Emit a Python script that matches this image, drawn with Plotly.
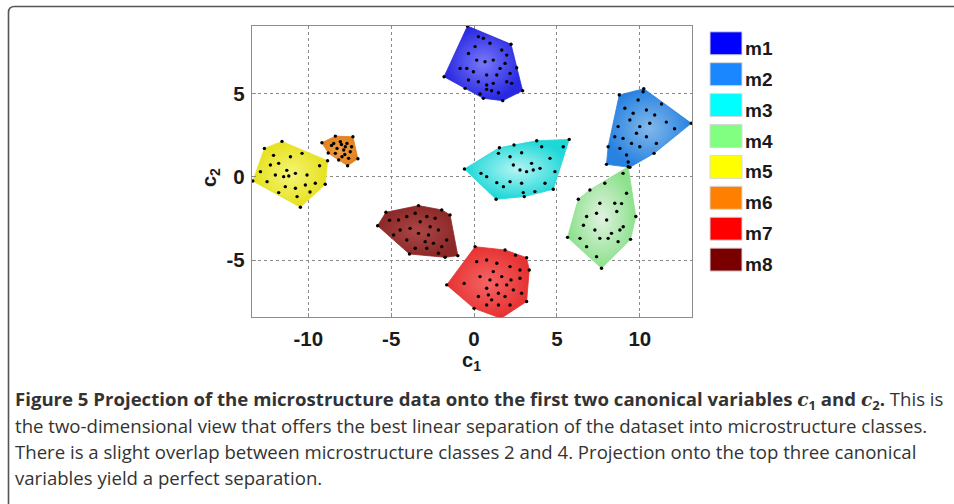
import plotly.graph_objects as go

# ---------------- data ----------------
classes = ["m1", "m2", "m3", "m4", "m5", "m6", "m7", "m8"]

m1_c1 = [-0.40, 2.23, 2.57, 2.93, 1.73, 0.56, -0.54, -1.81,
         0.26, 0.56, 0.96, -0.34, 0.16, 0.66, 1.16, 1.97, 1.87, 1.57, -0.84, -0.44, -0.04,
         0.76, 1.37, 2.17, 0.26, 0.76, 1.16, 1.97, 2.27, 0.76, 1.06, 1.47, 0.36, -0.34, 0.06, 1.67]
m1_c2 = [9.08, 7.98, 6.57, 5.19, 4.59, 4.73, 5.33, 6.03,
         8.44, 8.34, 8.04, 7.43, 7.03, 6.93, 7.03, 7.33, 6.83, 6.53, 6.53, 6.53, 6.33,
         6.13, 6.13, 6.23, 5.73, 5.53, 5.63, 5.73, 5.63, 5.27, 5.19, 5.07, 4.99, 5.83, 7.84, 7.64]

m2_c1 = [8.76, 10.24, 13.11, 9.40, 7.99, 8.09,
         9.10, 9.60, 10.40, 10.90, 11.31, 9.40, 10.00, 10.60, 8.49, 8.99, 9.80, 10.40, 11.00,
         9.50, 8.80, 10.00, 9.20, 10.86, 10.20, 9.90, 8.69, 9.30, 11.60, 12.10]
m2_c2 = [4.93, 5.31, 3.23, 0.58, 0.76, 1.82,
         4.13, 3.83, 4.03, 3.73, 4.39, 3.43, 3.03, 3.23, 2.42, 2.32, 2.63, 2.42, 2.02,
         2.02, 1.72, 1.82, 1.32, 1.42, 5.13, 4.63, 3.03, 0.90, 3.30, 2.90]

m3_c1 = [-0.58, 1.53, 2.41, 3.78, 5.74, 4.78, 3.03, 1.33,
         0.42, 1.47, 2.17, 2.87, 4.08, 4.58, 2.37, 2.77, 3.17, 3.57, 3.98, 4.88, 1.37,
         2.17, 2.87, 4.28, 3.67, 2.97, 1.77, 0.76, 5.38, 3.47]
m3_c2 = [0.48, 1.76, 1.92, 2.18, 2.26, -0.74, -1.18, -1.34,
         0.22, 1.42, 1.22, 1.46, 1.82, 1.12, 0.72, 0.42, 0.32, 0.42, 0.52, 0.32, -0.34,
         -0.28, -0.38, -0.38, -0.88, -0.94, -0.58, 0.02, 1.82, 0.82]

m4_c1 = [9.30, 9.76, 9.44, 7.69, 5.64, 6.29, 6.99,
         7.89, 8.99, 7.59, 8.49, 9.20, 6.79, 7.39, 8.61, 8.00, 7.29, 8.29, 8.80, 9.00,
         6.39, 7.59, 8.09, 8.69, 6.79, 7.39, 8.90, 6.60]
m4_c2 = [0.62, -2.38, -3.75, -5.49, -3.63, -1.34, -0.78,
         -0.38, 0.22, -1.58, -1.58, -0.98, -2.38, -2.18, -2.08, -2.59, -3.19, -3.39, -3.19, -2.99,
         -3.69, -3.69, -3.69, -3.89, -4.19, -4.79, -1.60, -2.90]

m5_c1 = [-13.35, -12.65, -11.59, -8.84, -8.98, -10.48,
         -12.89, -12.29, -11.79, -11.08, -10.38, -9.32, -11.49, -11.18, -10.78, -10.08, -11.99,
         -12.49, -11.39, -10.78, -9.58, -11.79, -10.68, -10.18, -12.10, -9.90, -11.30]
m5_c2 = [-0.24, 1.72, 2.14, 0.98, -0.44, -1.82,
         0.32, 0.72, 0.82, 1.22, 1.42, 0.68, 0.02, 0.06, 0.22, 0.12, 0.12,
         -0.28, -0.58, -0.68, -0.38, -0.94, -1.18, -0.48, 1.30, -0.90, 0.40]

m6_c1 = [-9.18, -8.37, -7.31, -7.01, -7.63, -8.80,
         -8.47, -8.07, -7.67, -8.27, -7.87, -7.47, -8.37, -7.97, -7.57, -7.77, -8.17, -7.39,
         -8.60, -8.00, -7.80]
m6_c2 = [2.06, 2.46, 2.42, 1.10, 0.68, 1.44,
         2.02, 2.12, 2.02, 1.72, 1.62, 1.52, 1.42, 1.22, 1.12, 1.82, 1.02, 1.82,
         1.90, 1.95, 1.35]

m7_c1 = [-1.65, 0.06, 1.87, 3.17, 3.33, 3.17, 1.63, 0.00,
         0.16, 0.76, 1.37, 2.17, 2.77, 1.16, 1.67, 0.96, 0.36, 2.23, 2.77, 1.37, 1.97,
         0.76, 2.37, 1.47, 1.87, 0.86, 2.87, 0.26, 1.47, 0.76, 2.17, 1.06, -0.60, 2.50]
m7_c2 = [-6.49, -4.19, -4.39, -4.85, -5.59, -7.49, -8.50, -7.90,
         -5.09, -4.99, -5.19, -5.39, -5.59, -5.69, -5.99, -6.19, -5.99, -6.19, -6.09, -6.49, -6.49,
         -6.69, -6.79, -6.99, -7.19, -7.09, -6.99, -7.19, -7.70, -7.70, -7.70, -7.39, -6.40, -4.70]

m8_c1 = [-5.82, -5.32, -3.35, -1.95, -1.45, -0.98, -1.75, -3.90,
         -4.56, -4.06, -3.55, -2.85, -2.35, -3.25, -2.65, -2.15, -4.46, -3.86, -3.35, -2.75,
         -4.86, -4.06, -2.95, -2.45, -1.65, -2.85, -3.55, -2.15, -1.95, -5.10]
m8_c2 = [-2.93, -2.12, -1.72, -1.98, -2.28, -4.73, -4.83, -4.63,
         -2.59, -2.38, -2.18, -2.38, -2.48, -2.69, -2.99, -3.19, -3.19, -3.09, -3.39, -3.49,
         -3.49, -3.79, -3.89, -3.99, -3.79, -4.29, -4.29, -4.59, -4.19, -2.60]

c1_values = [m1_c1, m2_c1, m3_c1, m4_c1, m5_c1, m6_c1, m7_c1, m8_c1]
c2_values = [m1_c2, m2_c2, m3_c2, m4_c2, m5_c2, m6_c2, m7_c2, m8_c2]

x_ticks = [-10, -5, 0, 5, 10]
y_ticks = [-5, 0, 5]
x_range = [-13.4, 13.15]
y_range = [-8.42, 9.08]

# ---------------- styles ----------------
legend_colors = ["#0000ff", "#1a86ff", "#00ffff", "#80ff80", "#ffff00", "#ff8000", "#ff0000", "#7a0000"]
fill_center = ["rgb(120,120,250)", "rgb(130,185,235)", "rgb(180,245,245)", "rgb(225,242,225)",
               "rgb(245,245,120)", "rgb(240,160,70)", "rgb(245,100,100)", "rgb(170,70,70)"]
fill_edge = ["rgb(40,40,225)", "rgb(40,130,225)", "rgb(30,215,215)", "rgb(140,225,140)",
             "rgb(230,225,30)", "rgb(225,130,30)", "rgb(230,50,50)", "rgb(140,40,40)"]

W, H = 954, 504
L, R, T, B = 252, 692, 26, 317   # plot area in pixels
BOLD_FONT = "Liberation Sans, Arial, Helvetica, sans-serif"


def px_x(p):
    return (p - L) / (R - L)


def px_y(p):
    return (B - p) / (B - T)


def convex_hull(xs, ys):
    pts = sorted(set(zip(xs, ys)))
    if len(pts) <= 2:
        return pts

    def cross(o, a, b):
        return (a[0] - o[0]) * (b[1] - o[1]) - (a[1] - o[1]) * (b[0] - o[0])
    lower, upper = [], []
    for p in pts:
        while len(lower) >= 2 and cross(lower[-2], lower[-1], p) <= 0:
            lower.pop()
        lower.append(p)
    for p in reversed(pts):
        while len(upper) >= 2 and cross(upper[-2], upper[-1], p) <= 0:
            upper.pop()
        upper.append(p)
    return lower[:-1] + upper[:-1]


fig = go.Figure()

for i, name in enumerate(classes):
    hull = convex_hull(c1_values[i], c2_values[i])
    hx = [p[0] for p in hull] + [hull[0][0]]
    hy = [p[1] for p in hull] + [hull[0][1]]
    fig.add_trace(go.Scatter(
        x=hx, y=hy, mode="lines", fill="toself",
        line=dict(width=0.8, color=fill_edge[i]),
        fillgradient=dict(type="radial", colorscale=[[0, fill_center[i]], [1, fill_edge[i]]]),
        hoverinfo="skip", showlegend=False, name=name))

for i, name in enumerate(classes):
    fig.add_trace(go.Scatter(
        x=c1_values[i], y=c2_values[i], mode="markers",
        marker=dict(size=3.4, color="black"),
        showlegend=False, name=name))

axis_common = dict(
    showgrid=True, gridcolor="#8a8a8a", griddash="dot", gridwidth=1,
    zeroline=False, showline=True, linecolor="#8c8c8c", linewidth=1.3, mirror=True,
    ticks="inside", ticklen=4, tickcolor="#8c8c8c",
    tickfont=dict(family=BOLD_FONT, size=20.5, color="#1a1a1a", weight="bold"),
)
fig.update_xaxes(range=x_range, tickvals=x_ticks, ticktext=[f"<b>{v}</b>" for v in x_ticks],
                 ticklabelstandoff=3, **axis_common)
fig.update_yaxes(range=y_range, tickvals=y_ticks, ticktext=[f"<b>{v}</b>" for v in y_ticks],
                 ticklabelstandoff=2, **axis_common)

shapes = []
annotations = []

# legend (manual swatches)
for i, name in enumerate(classes):
    cy = 43.3 + i * 30.9
    shapes.append(dict(type="rect", xref="paper", yref="paper",
                       x0=px_x(710), x1=px_x(742), y0=px_y(cy + 11.5), y1=px_y(cy - 11.5),
                       fillcolor=legend_colors[i], line=dict(width=1, color="#d8d8d8")))
    annotations.append(dict(xref="paper", yref="paper", x=px_x(743), y=px_y(cy + 5),
                            xanchor="left", yanchor="middle", showarrow=False, text=f"<b>{name}</b>",
                            font=dict(family=BOLD_FONT, size=19, color="#1a1a1a")))

# axis titles
annotations.append(dict(xref="paper", yref="paper", x=px_x(471), y=px_y(361),
                        xanchor="center", yanchor="middle", showarrow=False,
                        text="<b>c<sub>1</sub></b>",
                        font=dict(family=BOLD_FONT, size=20, color="#1a1a1a")))
annotations.append(dict(xref="paper", yref="paper", x=px_x(211), y=px_y(178),
                        xanchor="center", yanchor="middle", showarrow=False, textangle=-90,
                        text="<b>c<sub>2</sub></b>",
                        font=dict(family=BOLD_FONT, size=20, color="#1a1a1a")))

# caption
cap_font = dict(family="Open Sans, sans-serif", size=18.6, color="#333333")
serif = "<span style='font-family:DejaVu Serif;font-style:italic'>c</span>"
caption_lines = [
    "<b>Figure 5 Projection of the microstructure data onto the first two canonical variables "
    + serif + "<sub>1</sub> and " + serif + "<sub>2</sub>.</b> This is",
    "the two-dimensional view that offers the best linear separation of the dataset into microstructure classes.",
    "There is a slight overlap between microstructure classes 2 and 4. Projection onto the top three canonical",
    "variables yield a perfect separation.",
]
for k, line in enumerate(caption_lines):
    annotations.append(dict(xref="paper", yref="paper", x=px_x(13), y=px_y(400 + k * 25.7),
                            xanchor="left", yanchor="middle", showarrow=False, text=line,
                            font=cap_font))

# outer frame (top + left with rounded corner)
r = 6
shapes.append(dict(type="path", xref="paper", yref="paper",
                   path=(f"M {px_x(8.5)} {px_y(510)} L {px_x(8.5)} {px_y(6.5 + r)} "
                         f"Q {px_x(8.5)} {px_y(6.5)} {px_x(8.5 + r)} {px_y(6.5)} L {px_x(960)} {px_y(6.5)}"),
                   line=dict(color="#555555", width=1.6)))

fig.update_layout(
    width=W, height=H,
    margin=dict(l=L, r=W - R, t=T, b=H - B),
    paper_bgcolor="white", plot_bgcolor="white",
    shapes=shapes, annotations=annotations, showlegend=False,
)

fig.write_html("out.html", config={"displayModeBar": False},
               post_script="document.body.style.margin='0';document.body.style.overflow='hidden';")
